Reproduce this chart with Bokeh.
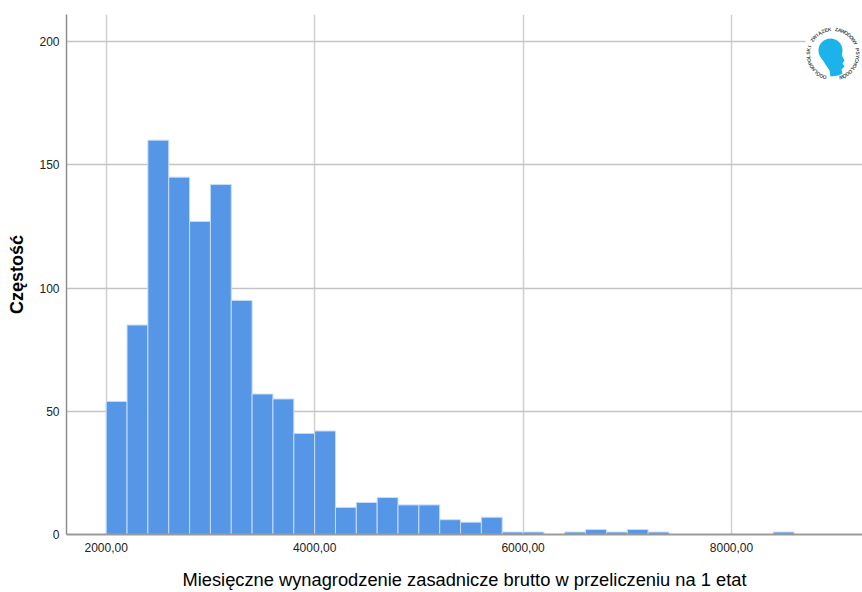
import math
from bokeh.plotting import figure
from bokeh.models import Range1d, FixedTicker, ColumnDataSource
from bokeh.core.properties import value
from bokeh.embed import file_html
from bokeh.resources import INLINE

# ---- data (histogram of monthly gross salary) ----
bin_start = 2000
bin_width = 200
counts = [54, 85, 160, 145, 127, 142, 95, 57, 55, 41, 42,
          11, 13, 15, 12, 12, 6, 5, 7, 1, 1, 0, 1, 2, 1, 2, 1,
          0, 0, 0, 0, 0, 1]
x_ticks = [2000, 4000, 6000, 8000]
x_tick_labels = ["2000,00", "4000,00", "6000,00", "8000,00"]
y_ticks = [0, 50, 100, 150, 200]
y_tick_labels = ["0", "50", "100", "150", "200"]
x_title = "Miesięczne wynagrodzenie zasadnicze brutto w przeliczeniu na 1 etat"
y_title = "Częstość"
logo_text = "OGÓLNOPOLSKI ZWIĄZEK ZAWODOWY PSYCHOLOGÓW"

lefts, rights, tops = [], [], []
for i, c in enumerate(counts):
    if c > 0:
        lefts.append(bin_start + i * bin_width)
        rights.append(bin_start + (i + 1) * bin_width)
        tops.append(c)
src = ColumnDataSource(dict(left=lefts, right=rights, top=tops, bottom=[0] * len(tops)))

X0, X1, Y0, Y1 = 1619, 9257, 0, 211
W, H = 862, 592
ML, MT, MB = 66, 14, 58
FW, FH = W - ML, H - MT - MB

p = figure(width=W, height=H, output_backend="svg", toolbar_location=None,
           x_range=Range1d(X0, X1), y_range=Range1d(Y0, Y1),
           min_border_left=ML, min_border_right=0, min_border_top=MT,
           min_border_bottom=MB, background_fill_color="white",
           border_fill_color="white")
p.outline_line_color = None

# grid
p.xgrid.ticker = FixedTicker(ticks=x_ticks)
p.ygrid.ticker = FixedTicker(ticks=[50, 100, 150, 200])
p.xgrid.grid_line_color = "#d0d0d0"
p.xgrid.grid_line_width = 1.5
p.ygrid.grid_line_color = "#c4c4c4"
p.ygrid.grid_line_width = 1.5

# axes
for ax in (p.xaxis[0], p.yaxis[0]):
    ax.major_tick_out = 0
    ax.major_tick_in = 0
    ax.minor_tick_out = 0
    ax.minor_tick_in = 0
    ax.major_label_text_font = "Liberation Sans"
    ax.major_label_text_font_size = "12px"
    ax.major_label_text_color = "#222222"
    ax.axis_label_text_font = "Liberation Sans"
    ax.axis_label_text_color = "#000000"

p.xaxis.ticker = FixedTicker(ticks=x_ticks)
p.xaxis.major_label_overrides = dict(zip(x_ticks, x_tick_labels))
p.xaxis.axis_line_color = "#9a9a9a"
p.xaxis.axis_line_width = 2
p.xaxis.major_label_standoff = 8
p.xaxis.axis_label = x_title
p.xaxis.axis_label_text_font_size = "18.3px"
p.xaxis.axis_label_text_font_style = "normal"
p.xaxis.axis_label_text_line_height = 0.9
p.xaxis.axis_label_standoff = 14

p.yaxis.ticker = FixedTicker(ticks=y_ticks)
p.yaxis.major_label_overrides = dict(zip(y_ticks, y_tick_labels))
p.yaxis.axis_line_color = "#8e8e8e"
p.yaxis.axis_line_width = 1.5
p.yaxis.major_label_standoff = 7
p.yaxis.axis_label = y_title
p.yaxis.axis_label_text_font_size = "18px"
p.yaxis.axis_label_text_font_style = "bold"
p.yaxis.axis_label_standoff = 9

# bars
p.quad(left="left", right="right", top="top", bottom="bottom", source=src,
       fill_color="#5596e6", line_color="#c6dcf7", line_width=1)

# ---- logo (decoration, placed in page pixels) ----
def px(xp):
    return X0 + (xp - ML) / FW * (X1 - X0)

def py(yp):
    return Y1 - (yp - MT) / FH * (Y1 - Y0)

p.quad(left=[px(805)], right=[px(870)], top=[py(24)], bottom=[py(88)],
       fill_color="white", line_color=None)
cx, cy = 832.5, 53.5
p.scatter([px(830)], [py(50)], size=24, marker="circle",
          fill_color="#1cb3ea", line_color=None)
head = [(820, 56), (841, 54), (844, 60), (842, 63), (844, 66), (841, 69),
        (842, 73), (838, 75), (830, 76), (829, 70), (825, 64)]
p.patch([px(a) for a, b in head], [py(b) for a, b in head],
        fill_color="#1cb3ea", line_color=None)
n = len(logo_text)
start, end = 250.0, -70.0
xs, ys, angs = [], [], []
for i, ch in enumerate(logo_text):
    th = math.radians(start + (end - start) * i / (n - 1))
    xs.append(px(cx + 25 * math.cos(th)))
    ys.append(py(cy - 25 * math.sin(th)))
    angs.append(th - math.pi / 2)
p.text(xs, ys, text=list(logo_text), angle=angs, text_font=value("Liberation Sans"),
       text_font_size="5px", text_font_style="bold", text_color="#4a4a4a",
       text_align="center", text_baseline="middle")

open("out.html", "w").write(file_html(p, INLINE))
